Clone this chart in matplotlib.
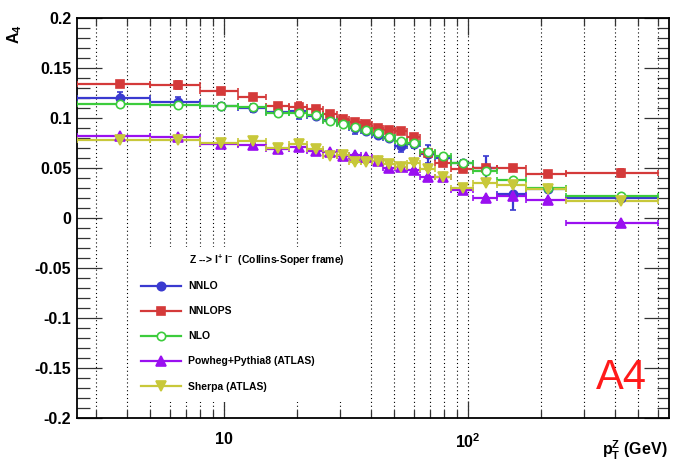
import numpy as np
import matplotlib
matplotlib.use("Agg")
import matplotlib.pyplot as plt
from matplotlib.patches import Rectangle
from matplotlib.ticker import FixedLocator, FixedFormatter, MultipleLocator, NullFormatter

plt.rcParams['font.family'] = ['Liberation Sans', 'DejaVu Sans']
plt.rcParams['font.weight'] = 'bold'
plt.rcParams['mathtext.fontset'] = 'custom'
plt.rcParams['mathtext.rm'] = 'Liberation Sans:bold'
plt.rcParams['mathtext.bf'] = 'Liberation Sans:bold'
plt.rcParams['mathtext.it'] = 'Liberation Sans:bold'
plt.rcParams['mathtext.default'] = 'bf'

# ---- data ----
bin_edges = [2.5, 5, 8, 11.4, 14.9, 18.5, 22, 25.5, 29, 32.6, 36.4, 40.4, 44.9,
             50.2, 56.4, 63.9, 73.4, 85.4, 105, 132, 173, 253, 600]

nnlo = [0.120, 0.116, 0.112, 0.110, 0.106, 0.107, 0.102, 0.098, 0.095, 0.090, 0.087,
        0.083, 0.080, 0.072, 0.074, 0.064, 0.060, 0.055, 0.050, 0.024, 0.029, 0.020]
nnlo_err = [0.006, 0.005, 0.003, 0.004, 0.003, 0.008, 0.003, 0.003, 0.003, 0.006, 0.003,
            0.003, 0.003, 0.006, 0.004, 0.009, 0.004, 0.003, 0.012, 0.016, 0.003, 0.002]

nnlops = [0.134, 0.133, 0.127, 0.121, 0.112, 0.111, 0.109, 0.104, 0.099, 0.096, 0.094,
          0.090, 0.088, 0.087, 0.081, 0.065, 0.055, 0.049, 0.050, 0.050, 0.044, 0.045]
nnlops_err = [0.002, 0.004, 0.002, 0.002, 0.002, 0.005, 0.002, 0.002, 0.002, 0.002, 0.002,
              0.002, 0.002, 0.002, 0.002, 0.003, 0.002, 0.002, 0.002, 0.002, 0.002, 0.004]

nlo = [0.114, 0.113, 0.112, 0.111, 0.105, 0.105, 0.103, 0.097, 0.094, 0.091, 0.088,
       0.085, 0.081, 0.077, 0.075, 0.066, 0.062, 0.055, 0.047, 0.038, 0.030, 0.022]
nlo_err = [0.001] * 22

powheg = [0.082, 0.081, 0.074, 0.073, 0.069, 0.071, 0.067, 0.066, 0.062, 0.063, 0.061,
          0.057, 0.050, 0.051, 0.048, 0.041, 0.041, 0.028, 0.020, 0.022, 0.018, -0.005]
powheg_err = [0.001] * 22

sherpa = [0.078, 0.078, 0.075, 0.077, 0.070, 0.074, 0.069, 0.062, 0.063, 0.056, 0.056,
          0.057, 0.054, 0.051, 0.055, 0.049, 0.041, 0.030, 0.035, 0.033, 0.029, 0.017]
sherpa_err = [0.001] * 22

series_names = ["NNLO", "NNLOPS", "NLO", "Powheg+Pythia8 (ATLAS)", "Sherpa (ATLAS)"]
header = "Z --> l$^{+}$ l$^{-}$  (Collins-Soper frame)"
x_ticks = [10, 100]
x_tick_labels = ["10", "$10^{2}$"]

# ---- figure ----
fig = plt.figure(figsize=(6.75, 4.65), dpi=100)
ax = fig.add_axes([0.1141, 0.1011, 0.8763, 0.8602])

edges = np.array(bin_edges)
xc = 0.5 * (edges[:-1] + edges[1:])
xlo = xc - edges[:-1]
xhi = edges[1:] - xc

styles = [
    (nnlo, nnlo_err, dict(color='#3a3ad0', marker='o', mfc='#3a3ad0', ms=6.0)),
    (nnlops, nnlops_err, dict(color='#d43a3a', marker='s', mfc='#d43a3a', ms=6.0)),
    (nlo, nlo_err, dict(color='#3ccc3c', marker='o', mfc='white', ms=6.0)),
    (powheg, powheg_err, dict(color='#9a10f0', marker='^', mfc='#9a10f0', ms=6.5)),
    (sherpa, sherpa_err, dict(color='#c8c83a', marker='v', mfc='#c8c83a', ms=6.5)),
]
handles = []
for (vals, errs, st), name in zip(styles, series_names):
    ax.errorbar(xc, vals, yerr=errs, xerr=[xlo, xhi], fmt='none',
                ecolor=st['color'], elinewidth=1.6, capsize=2.0, capthick=1.2, zorder=3)
    ax.plot(xc, vals, ls='none', marker=st['marker'], color=st['color'],
            mfc=st['mfc'], mec=st['color'], mew=1.2, ms=st['ms'], zorder=4)
    lh, = ax.plot([], [], color=st['color'], lw=1.6, marker=st['marker'],
                  mfc=st['mfc'], mec=st['color'], mew=1.2, ms=st['ms'])
    handles.append(lh)

ax.set_xscale('log')
ax.set_xlim(2.5, 665)
ax.set_ylim(-0.2, 0.2)

ax.xaxis.set_major_locator(FixedLocator(x_ticks))
ax.xaxis.set_major_formatter(FixedFormatter(x_tick_labels))
minor_x = [m * d for d in (1, 10, 100) for m in range(2, 10) if 2.5 <= m * d <= 665]
ax.xaxis.set_minor_locator(FixedLocator(minor_x))
ax.xaxis.set_minor_formatter(NullFormatter())
ax.yaxis.set_major_locator(MultipleLocator(0.05))
ax.yaxis.set_minor_locator(MultipleLocator(0.01))
ax.yaxis.set_major_formatter(matplotlib.ticker.FuncFormatter(
    lambda v, p: "0" if abs(v) < 1e-9 else ("%g" % round(v, 3))))

ax.tick_params(which='both', direction='in', top=True, right=True, width=0.9, color='#333333')
ax.tick_params(axis='y', which='major', length=18, labelsize=11.5, pad=4)
ax.tick_params(axis='y', which='minor', length=9)
ax.tick_params(axis='x', which='major', length=12, labelsize=11.5, pad=10)
ax.tick_params(axis='x', which='minor', length=6)
for lab in ax.get_xticklabels() + ax.get_yticklabels():
    lab.set_fontweight('bold')
for sp in ax.spines.values():
    sp.set_linewidth(1.3)

ax.grid(True, axis='x', which='both', ls=(0, (1, 2.5)), color='black', lw=0.8)
ax.set_axisbelow(True)

# white legend pad hiding the grid
ax.add_patch(Rectangle((0.098, 0.04), 0.384, 0.3875, transform=ax.transAxes,
                       facecolor='white', edgecolor='none', zorder=1))

leg = ax.legend(handles, series_names, loc='upper left',
                bbox_to_anchor=(60 / 591, (418 - 277) / 400), frameon=False,
                fontsize=7.5, handlelength=3.8, handletextpad=0.7, labelspacing=1.45,
                borderaxespad=0)
for t in leg.get_texts():
    t.set_fontweight('bold')
fig.text(189 / 675, 1 - 260 / 465, header, fontsize=7.5, fontweight='bold',
         ha='left', va='center')

ax.text(0.921, 0.101, "A4", transform=ax.transAxes, color='#ff1a1a', fontsize=30,
        fontweight='normal', ha='center', va='center')

fig.text(15 / 675, 1 - 34 / 465, "A$_{4}$", rotation=90, fontsize=11.5,
         fontweight='bold', ha='center', va='center')
fig.text(668 / 675, 1 - 450 / 465, "p$_{T}^{Z}$ (GeV)", fontsize=11.5,
         fontweight='bold', ha='right', va='center')

fig.savefig("out.png", dpi=100)
